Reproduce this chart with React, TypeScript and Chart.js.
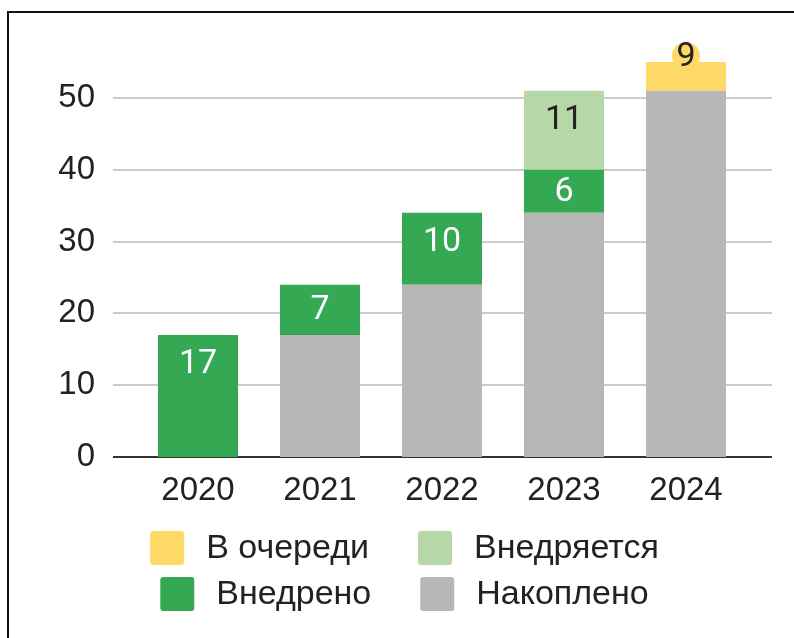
import React, { useEffect, useRef } from "react";
import { Chart, registerables } from "chart.js";

Chart.register(...registerables);

const categories = ["2020", "2021", "2022", "2023", "2024"];
const accumulated = [0, 17, 24, 34, 51];
const implemented = [17, 7, 10, 6, 0];
const inProgress = [0, 0, 0, 11, 0];
const queued = [0, 0, 0, 0, 9];
const yTicks = [0, 10, 20, 30, 40, 50];
const yMax = 55;

const AXIS_FONT = "'Liberation Sans', Arial, sans-serif";
const LABEL_FONT = "Roboto, 'Liberation Sans', sans-serif";

const gridPlugin = {
  id: "gridExt",
  beforeDatasetsDraw(chart: any) {
    const { ctx, chartArea } = chart;
    const ys = chart.scales.y;
    ctx.save();
    yTicks.forEach((v) => {
      const y = Math.round(ys.getPixelForValue(v));
      ctx.beginPath();
      ctx.lineWidth = 2;
      ctx.strokeStyle = v === 0 ? "#333333" : "#cccccc";
      ctx.moveTo(chartArea.left - 24, y);
      ctx.lineTo(chartArea.right + 25, y);
      ctx.stroke();
    });
    ctx.restore();
  },
};

const labelPlugin = {
  id: "segLabels",
  afterDatasetsDraw(chart: any) {
    const { ctx, chartArea } = chart;
    ctx.save();
    ctx.font = `34px ${LABEL_FONT}`;
    ctx.textAlign = "center";
    ctx.textBaseline = "middle";
    chart.data.datasets.forEach((ds: any, di: number) => {
      if (ds.showLabel === false) return;
      const meta = chart.getDatasetMeta(di);
      ds.data.forEach((v: number, i: number) => {
        if (!v) return;
        const el: any = meta.data[i];
        const top = Math.min(el.y, el.base);
        const bottom = Math.max(el.y, el.base);
        let cy: number;
        if (top < chartArea.top) {
          cy = chartArea.top - 6;
          ctx.beginPath();
          ctx.fillStyle = ds.backgroundColor;
          ctx.arc(el.x, cy, 14, 0, Math.PI * 2);
          ctx.fill();
        } else {
          cy = Math.min((top + bottom) / 2, top + 29);
        }
        ctx.fillStyle = ds.labelColor;
        ctx.fillText(String(v), el.x, cy + 1);
      });
    });
    ctx.restore();
  },
};

const legendPlugin = {
  id: "gridLegend",
  afterDraw(chart: any) {
    const { ctx } = chart;
    const rows = [
      [3, 2],
      [1, 0],
    ];
    const rowTops = [531, 577];
    const box = 34;
    const gapText = 22;
    const gapItem = 49;
    const cx = 404.5;
    ctx.save();
    ctx.font = `34px ${AXIS_FONT}`;
    ctx.textBaseline = "middle";
    ctx.textAlign = "left";
    rows.forEach((row, r) => {
      const widths = row.map(
        (di) => box + gapText + ctx.measureText(chart.data.datasets[di].label).width
      );
      const total = widths.reduce((a, b) => a + b, 0) + gapItem * (row.length - 1);
      let x = cx - total / 2;
      row.forEach((di, k) => {
        const ds = chart.data.datasets[di];
        const y = rowTops[r];
        ctx.fillStyle = ds.backgroundColor;
        ctx.beginPath();
        (ctx as any).roundRect(x, y, box, box, 3);
        ctx.fill();
        ctx.fillStyle = "#222222";
        ctx.fillText(ds.label, x + box + gapText, y + box / 2 + 1);
        x += widths[k] + gapItem;
      });
    });
    ctx.restore();
  },
};

export default function App() {
  const ref = useRef<HTMLCanvasElement>(null);
  useEffect(() => {
    const chart = new Chart(ref.current!, {
      type: "bar",
      data: {
        labels: categories,
        datasets: [
          { label: "Накоплено", data: accumulated, backgroundColor: "#b7b7b7", labelColor: "#222222", showLabel: false } as any,
          { label: "Внедрено", data: implemented, backgroundColor: "#34a853", labelColor: "#ffffff" } as any,
          { label: "Внедряется", data: inProgress, backgroundColor: "#b6d7a8", labelColor: "#222222" } as any,
          { label: "В очереди", data: queued, backgroundColor: "#ffd966", labelColor: "#222222" } as any,
        ],
      },
      options: {
        responsive: false,
        animation: false,
        layout: { padding: { left: 0, right: 47, top: 62, bottom: 0 } },
        datasets: { bar: { barPercentage: 0.656, categoryPercentage: 1 } },
        plugins: { legend: { display: false }, tooltip: { enabled: false } },
        scales: {
          x: {
            stacked: true,
            grid: { display: false, drawTicks: false },
            border: { display: false },
            ticks: { font: { family: AXIS_FONT, size: 33 }, color: "#222222", padding: 14 },
            afterFit: (s: any) => {
              s.height = 181;
            },
          },
          y: {
            stacked: true,
            min: 0,
            max: yMax,
            grid: { display: false, drawTicks: false },
            border: { display: false },
            ticks: { font: { family: AXIS_FONT, size: 33 }, color: "#222222", padding: 42 },
            afterBuildTicks: (s: any) => {
              s.ticks = yTicks.map((v) => ({ value: v }));
            },
            afterFit: (s: any) => {
              s.width = 137;
            },
          },
        },
      },
      plugins: [gridPlugin, labelPlugin, legendPlugin],
    } as any);
    return () => chart.destroy();
  }, []);

  return (
    <div style={{ position: "fixed", left: 0, top: 0, width: 794, height: 638, overflow: "hidden", background: "#fff" }}>
      <div
        style={{
          position: "absolute",
          left: 7,
          top: 11,
          width: 900,
          height: 800,
          border: "2px solid #111",
          boxSizing: "border-box",
        }}
      />
      <canvas ref={ref} width={794} height={638} style={{ position: "absolute", left: 0, top: 0 }} />
    </div>
  );
}
